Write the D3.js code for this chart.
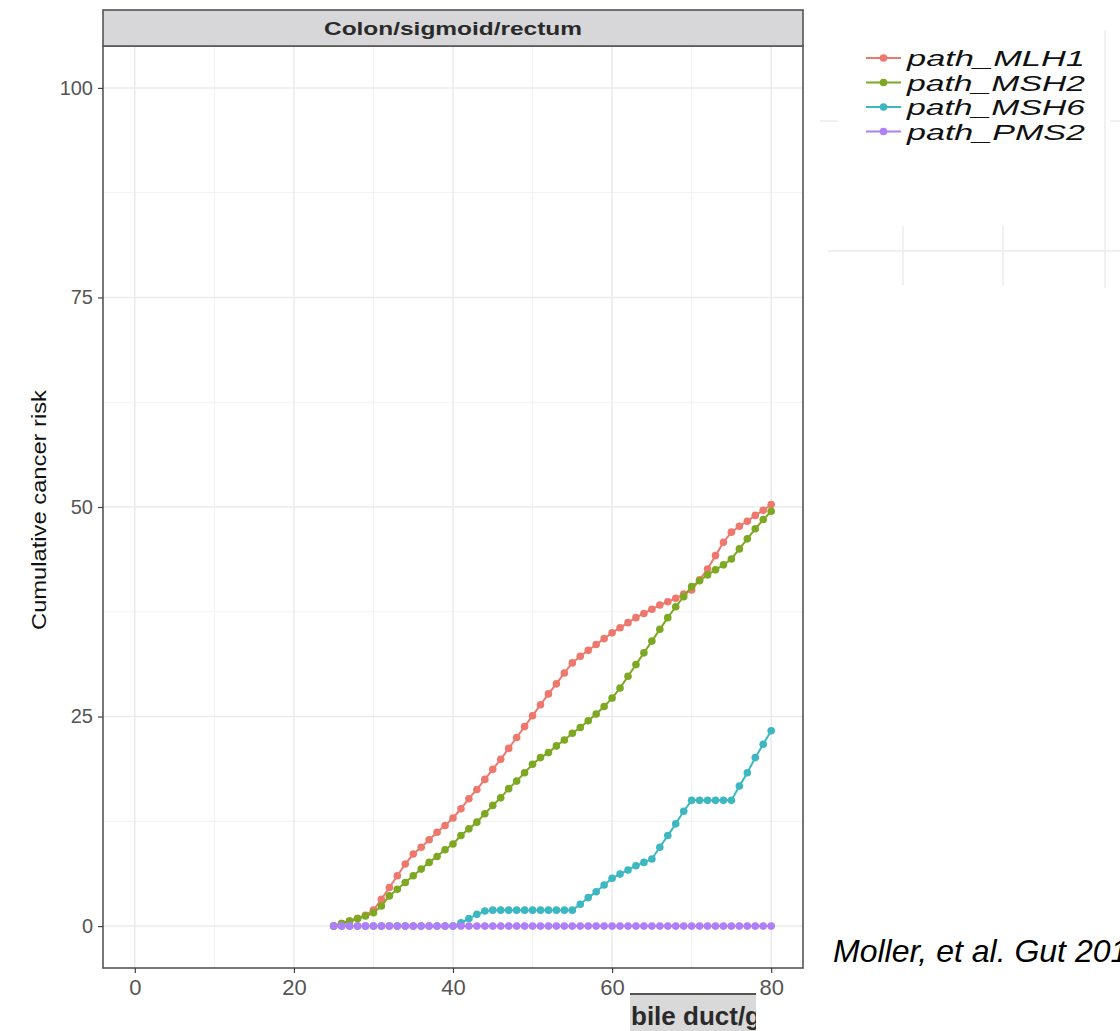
<!DOCTYPE html>
<html><head><meta charset="utf-8">
<script src="https://cdn.jsdelivr.net/npm/d3@7"></script>
<style>
html,body{margin:0;padding:0;background:#fff;}
svg{display:block;}
</style></head>
<body>
<svg id="c" width="1120" height="1031"></svg>
<script>
const ages = [25,26,27,28,29,30,31,32,33,34,35,36,37,38,39,40,41,42,43,44,45,46,47,48,49,50,51,52,53,54,55,56,57,58,59,60,61,62,63,64,65,66,67,68,69,70,71,72,73,74,75,76,77,78,79,80];
const mlh1 = [0.0,0.3,0.6,0.9,1.3,1.9,3.2,4.6,6.0,7.4,8.6,9.4,10.3,11.2,12.0,12.9,14.0,15.2,16.3,17.5,18.7,19.9,21.2,22.5,23.8,25.1,26.4,27.7,28.9,30.2,31.4,32.2,32.9,33.6,34.3,35.0,35.6,36.2,36.8,37.3,37.8,38.3,38.7,39.1,39.6,40.1,41.3,42.6,44.2,45.8,47.0,47.7,48.3,49.0,49.6,50.3];
const msh2 = [0.0,0.3,0.6,0.9,1.2,1.6,2.4,3.6,4.4,5.2,6.0,6.8,7.6,8.3,9.1,9.8,10.8,11.6,12.4,13.4,14.4,15.3,16.4,17.3,18.3,19.3,20.1,20.7,21.5,22.2,23.0,23.7,24.5,25.3,26.2,27.2,28.4,29.8,31.2,32.6,34.0,35.4,36.8,38.1,39.3,40.5,41.2,41.9,42.5,43.1,43.8,45.0,46.2,47.4,48.5,49.5];
const msh6 = [0,0,0,0,0,0,0,0,0,0,0,0,0,0,0,0,0.4,0.9,1.4,1.8,1.9,1.9,1.9,1.9,1.9,1.9,1.9,1.9,1.9,1.9,1.9,2.6,3.4,4.1,4.9,5.7,6.2,6.7,7.2,7.6,8.0,9.4,10.8,12.2,13.7,15.0,15.0,15.0,15.0,15.0,15.0,16.7,18.3,20.1,21.7,23.3];
const pms2 = [0,0,0,0,0,0,0,0,0,0,0,0,0,0,0,0,0,0,0,0,0,0,0,0,0,0,0,0,0,0,0,0,0,0,0,0,0,0,0,0,0,0,0,0,0,0,0,0,0,0,0,0,0,0,0,0];
const seriesNames = ["path_MLH1","path_MSH2","path_MSH6","path_PMS2"];
const seriesColors = ["#EE786E","#7DA822","#3DB8C0","#B07EF8"];
const xTicks = [0,20,40,60,80];
const xMinor = [10,30,50,70];
const yTicks = [0,25,50,75,100];
const yMinor = [12.5,37.5,62.5,87.5];
const stripTitle = "Colon/sigmoid/rectum";
const yTitle = "Cumulative cancer risk";
const citation = "Moller, et al. Gut 2017";
const cutLabel = "bile duct/gallbladder";

const seriesValues = [mlh1, msh2, msh6, pms2];
const svg = d3.select("#c");
const L = 103, R = 803, T = 46, B = 968, stripTop = 10;
const x = d3.scaleLinear().domain([-4, 84]).range([L, R]);
const y = d3.scaleLinear().domain([-5, 105]).range([B, T]);
const font = "'Liberation Sans', Arial, sans-serif";

// faint background lines of neighbouring panel (right side)
const bg = svg.append("g").attr("stroke", "#ebebeb").attr("stroke-width", 1.5);
bg.append("line").attr("x1", 828).attr("x2", 1120).attr("y1", 251).attr("y2", 251);
bg.append("line").attr("x1", 820).attr("x2", 838).attr("y1", 121).attr("y2", 121);
bg.append("line").attr("x1", 1110).attr("x2", 1120).attr("y1", 121).attr("y2", 121);
[903, 1003].forEach(v => bg.append("line").attr("x1", v).attr("x2", v).attr("y1", 226).attr("y2", 285));
bg.append("line").attr("x1", 1105).attr("x2", 1105).attr("y1", 30).attr("y2", 288);

// panel
svg.append("rect").attr("x", L).attr("y", T).attr("width", R - L).attr("height", B - T).attr("fill", "#fff");
const grid = svg.append("g");
xMinor.forEach(v => grid.append("line").attr("x1", x(v)).attr("x2", x(v)).attr("y1", T).attr("y2", B).attr("stroke", "#f2f2f2").attr("stroke-width", 1));
yMinor.forEach(v => grid.append("line").attr("y1", y(v)).attr("y2", y(v)).attr("x1", L).attr("x2", R).attr("stroke", "#f2f2f2").attr("stroke-width", 1));
xTicks.forEach(v => grid.append("line").attr("x1", x(v)).attr("x2", x(v)).attr("y1", T).attr("y2", B).attr("stroke", "#ebebeb").attr("stroke-width", 1.5));
yTicks.forEach(v => grid.append("line").attr("y1", y(v)).attr("y2", y(v)).attr("x1", L).attr("x2", R).attr("stroke", "#ebebeb").attr("stroke-width", 1.5));

// series
const line = d3.line().x(d => x(d[0])).y(d => y(d[1]));
seriesValues.forEach((vals, i) => {
  const pts = ages.map((a, j) => [a, vals[j]]);
  const g = svg.append("g");
  g.append("path").attr("d", line(pts)).attr("fill", "none").attr("stroke", seriesColors[i]).attr("stroke-width", 2);
  g.selectAll("circle").data(pts).enter().append("circle")
    .attr("cx", d => x(d[0])).attr("cy", d => y(d[1])).attr("r", 3.8).attr("fill", seriesColors[i]);
});

// panel border
svg.append("rect").attr("x", L).attr("y", T).attr("width", R - L).attr("height", B - T)
  .attr("fill", "none").attr("stroke", "#555").attr("stroke-width", 1.6);

// strip
svg.append("rect").attr("x", L).attr("y", stripTop).attr("width", R - L).attr("height", T - stripTop)
  .attr("fill", "#d7d7d9").attr("stroke", "#555").attr("stroke-width", 1.6);
svg.append("text").attr("x", (L + R) / 2).attr("y", 35).attr("text-anchor", "middle")
  .attr("font-family", font).attr("font-weight", "bold").attr("font-size", 19).attr("fill", "#2a2a2a")
  .attr("textLength", 258).attr("lengthAdjust", "spacingAndGlyphs").text(stripTitle);

// axes
const xAxis = svg.append("g").attr("transform", `translate(0,${B})`)
  .call(d3.axisBottom(x).tickValues(xTicks).tickSize(5).tickPadding(6));
xAxis.select(".domain").remove();
xAxis.selectAll("line").attr("stroke", "#444").attr("stroke-width", 1.2);
xAxis.selectAll("text").attr("font-family", font).attr("font-size", 22).attr("fill", "#555");
const yAxis = svg.append("g").attr("transform", `translate(${L},0)`)
  .call(d3.axisLeft(y).tickValues(yTicks).tickSize(5).tickPadding(5));
yAxis.select(".domain").remove();
yAxis.selectAll("line").attr("stroke", "#444").attr("stroke-width", 1.2);
yAxis.selectAll("text").attr("font-family", font).attr("font-size", 20).attr("fill", "#555");

svg.append("text").attr("transform", `translate(46,${(T + B) / 2 + 3}) rotate(-90)`).attr("text-anchor", "middle")
  .attr("font-family", font).attr("font-size", 20).attr("fill", "#111")
  .attr("textLength", 240).attr("lengthAdjust", "spacingAndGlyphs").text(yTitle);

// legend
const lg = svg.append("g");
seriesNames.forEach((n, i) => {
  const cy = 58 + i * 24.5;
  lg.append("line").attr("x1", 866).attr("x2", 901).attr("y1", cy).attr("y2", cy).attr("stroke", seriesColors[i]).attr("stroke-width", 2);
  lg.append("circle").attr("cx", 883.5).attr("cy", cy).attr("r", 3.8).attr("fill", seriesColors[i]);
  lg.append("text").attr("x", 907).attr("y", cy + 8).attr("font-family", font).attr("font-style", "italic")
    .attr("font-size", 22).attr("fill", "#111").attr("textLength", 178).attr("lengthAdjust", "spacingAndGlyphs").text(n);
});

// citation (clipped by page edge as in the reference)
svg.append("text").attr("x", 833).attr("y", 962).attr("font-family", font).attr("font-style", "italic")
  .attr("font-size", 32).attr("fill", "#000").text(citation);

// cut-off strip of neighbouring panel
svg.append("defs").append("clipPath").attr("id", "cut").append("rect").attr("x", 630).attr("y", 993).attr("width", 126).attr("height", 38);
const cut = svg.append("g").attr("clip-path", "url(#cut)");
cut.append("rect").attr("x", 630).attr("y", 993).attr("width", 126).attr("height", 40).attr("fill", "#d9d9d9");
cut.append("line").attr("x1", 630).attr("x2", 756).attr("y1", 994).attr("y2", 994).attr("stroke", "#555").attr("stroke-width", 2);
cut.append("text").attr("x", 631).attr("y", 1025).attr("font-family", font).attr("font-weight", "bold")
  .attr("font-size", 26).attr("fill", "#2a2a2a").text(cutLabel);
</script>
</body></html>
